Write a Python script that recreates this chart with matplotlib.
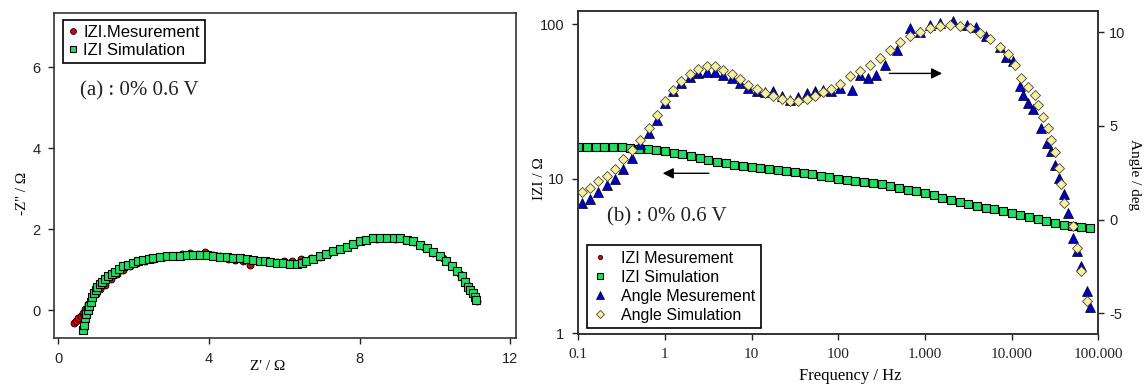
import numpy as np
import matplotlib.pyplot as plt
from matplotlib.ticker import FixedLocator, NullLocator

# panel (a): Nyquist data
re_sim = [0.65, 0.68, 0.71, 0.74, 0.78, 0.82, 0.87, 0.91, 0.95, 1.00, 1.04, 1.10, 1.16, 1.24,
          1.33, 1.42, 1.51, 1.62, 1.73, 1.86, 2.00, 2.13, 2.26, 2.40, 2.53, 2.70, 2.88, 3.05,
          3.23, 3.41, 3.59, 3.76, 3.94, 4.12, 4.30, 4.47, 4.65, 4.82, 5.00, 5.18, 5.36, 5.49,
          5.62, 5.80, 5.97, 6.15, 6.33, 6.46, 6.59, 6.77, 6.95, 7.12, 7.30, 7.48, 7.66, 7.83,
          8.01, 8.18, 8.36, 8.54, 8.72, 8.90, 9.07, 9.25, 9.42, 9.60, 9.78, 9.95, 10.13, 10.29,
          10.44, 10.58, 10.71, 10.80, 10.88, 10.94, 11.00, 11.05, 11.09]
im_sim = [-0.50, -0.36, -0.21, -0.10, 0.00, 0.11, 0.21, 0.31, 0.41, 0.50, 0.58, 0.64, 0.70, 0.77,
          0.83, 0.89, 0.95, 1.02, 1.08, 1.12, 1.16, 1.20, 1.24, 1.27, 1.29, 1.31, 1.33, 1.34,
          1.34, 1.35, 1.35, 1.35, 1.35, 1.33, 1.31, 1.30, 1.29, 1.28, 1.26, 1.24, 1.22, 1.20,
          1.19, 1.17, 1.16, 1.15, 1.14, 1.16, 1.20, 1.26, 1.33, 1.39, 1.45, 1.51, 1.57, 1.64,
          1.70, 1.74, 1.77, 1.78, 1.78, 1.78, 1.77, 1.74, 1.70, 1.62, 1.53, 1.43, 1.33, 1.21,
          1.08, 0.96, 0.83, 0.70, 0.58, 0.50, 0.41, 0.33, 0.25]
re_meas = [0.42, 0.48, 0.54, 0.60, 0.65, 0.72, 0.80, 0.90, 1.00, 1.12, 1.25, 1.40, 1.55, 1.72,
           1.90, 2.10, 2.30, 2.55, 2.80, 3.05, 3.30, 3.50, 3.70, 3.90, 4.10, 4.30, 4.50, 4.70,
           4.90, 5.10, 5.30, 5.55, 5.80, 6.00, 6.20, 6.45, 6.70, 6.95, 7.20, 7.45, 7.70, 7.95,
           8.20, 8.45, 8.70, 8.95, 9.20, 9.45, 9.70, 9.95, 10.20, 10.45, 10.65, 10.82, 10.95,
           11.05, 11.12]
im_meas = [-0.33, -0.27, -0.21, -0.14, -0.08, 0.02, 0.14, 0.28, 0.40, 0.52, 0.63, 0.76, 0.88, 1.00,
           1.08, 1.16, 1.22, 1.27, 1.30, 1.33, 1.38, 1.40, 1.39, 1.44, 1.37, 1.34, 1.25, 1.24,
           1.22, 1.12, 1.20, 1.20, 1.19, 1.21, 1.22, 1.25, 1.28, 1.32, 1.40, 1.50, 1.55, 1.67,
           1.72, 1.76, 1.78, 1.76, 1.73, 1.68, 1.56, 1.42, 1.28, 1.08, 0.88, 0.68, 0.48,
           0.34, 0.22]

# panel (b): Bode data
freq_z = [0.1, 0.126, 0.158, 0.2, 0.251, 0.316, 0.398, 0.5, 0.63, 0.79, 1.0, 1.26, 1.58, 2.0,
          2.51, 3.16, 3.98, 5.0, 6.3, 7.9, 10, 12.6, 15.8, 20, 25.1, 31.6, 39.8, 50, 63, 79,
          100, 126, 158, 200, 251, 316, 398, 500, 630, 794, 1000, 1259, 1585, 1995, 2512, 3162,
          3981, 5012, 6310, 7943, 10000, 12590, 15850, 19950, 25120, 31620, 39810, 50120,
          63100, 79430]
z_sim = [16.1, 16.1, 16.1, 16.1, 16.0, 16.0, 15.9, 15.7, 15.5, 15.3, 15.1, 14.8, 14.5, 14.1,
         13.7, 13.3, 12.9, 12.6, 12.3, 12.1, 11.9, 11.8, 11.6, 11.4, 11.2, 11.0, 10.85, 10.7,
         10.5, 10.35, 10.0, 9.8, 9.75, 9.6, 9.4, 9.2, 8.95, 8.75, 8.5, 8.3, 8.05, 7.85, 7.55,
         7.3, 7.1, 6.85, 6.65, 6.5, 6.35, 6.2, 6.0, 5.8, 5.65, 5.5, 5.35, 5.2, 5.05, 4.95,
         4.85, 4.8]
z_meas = [16.0, 16.1, 16.2, 16.1, 16.0, 15.9, 15.9, 15.8, 15.6, 15.3, 15.0, 14.8, 14.4, 14.1,
          13.8, 13.3, 12.9, 12.5, 12.3, 12.2, 11.9, 11.7, 11.7, 11.5, 11.2, 11.0, 10.8, 10.7,
          10.5, 10.3, 10.1, 9.8, 9.7, 9.6, 9.4, 9.2, 9.0, 8.8, 8.5, 8.4, 8.1, 7.8, 7.6,
          7.3, 7.1, 6.9, 6.7, 6.5, 6.3, 6.2, 6.1, 5.8, 5.7, 5.5, 5.3, 5.2, 5.1, 4.9,
          4.9, 4.8]

freq_ang_sim = [0.11, 0.136, 0.17, 0.214, 0.265, 0.331, 0.413, 0.515, 0.646, 0.80, 1.0, 1.25, 1.55,
                1.94, 2.42, 3.02, 3.78, 4.7, 5.9, 7.3, 9.1, 11.4, 14.2, 17.8, 22.2, 27.5, 34.4,
                43, 53.7, 67, 83, 105, 136, 178, 231, 302, 393, 513, 668, 871, 1135, 1479,
                1932, 2512, 3289, 4266, 5598, 7311, 9120, 10890, 13000, 15490, 18530, 20230,
                23070, 26300, 28840, 31480, 35320, 37580, 39810, 51290, 56890, 63970, 73280]
ang_sim = [1.47, 1.70, 2.05, 2.32, 2.68, 3.21, 3.74, 4.27, 4.89, 5.60, 6.31, 6.93, 7.41,
           7.78, 8.05, 8.22, 8.17, 7.99, 7.78, 7.52, 7.20, 6.97, 6.76, 6.57, 6.44, 6.31, 6.35,
           6.45, 6.61, 6.79, 6.97, 7.25, 7.64, 7.94, 8.26, 8.62, 9.06, 9.45, 9.77, 10.03, 10.21,
           10.34, 10.39, 10.34, 10.21, 9.95, 9.63, 9.23, 8.83, 8.26, 7.55, 7.07, 6.66, 6.13,
           5.48, 4.89, 4.27, 3.60, 2.77, 1.88, 0.90, -0.34, -1.49, -2.73, -4.33]
freq_ang_meas = [0.11, 0.136, 0.17, 0.214, 0.265, 0.331, 0.413, 0.515, 0.646, 0.80, 1.0, 1.25, 1.55,
                 1.94, 2.42, 3.02, 3.78, 4.7, 5.9, 7.3, 9.1, 11.4, 14.2, 17.8, 22.2, 27.5, 34.4,
                 43, 53.7, 67, 83, 105, 143, 178, 222, 275, 344, 470, 668, 871, 1135, 1479,
                 2113, 3020, 3936, 5129, 7311, 8710, 10400, 12450, 13580, 15490, 17700, 22130,
                 25290, 28180, 31480, 35320, 39810, 44870, 51290, 56890, 63970, 73280, 79430]
ang_meas = [0.90, 1.08, 1.47, 1.82, 2.14, 2.68, 3.30, 4.01, 4.63, 5.34, 6.22, 6.84, 7.29,
            7.61, 7.82, 7.90, 7.85, 7.73, 7.55, 7.29, 7.02, 6.84, 6.79, 6.84, 6.57, 6.40, 6.54,
            6.76, 6.84, 6.93, 6.84, 7.02, 6.93, 7.73, 7.55, 7.73, 8.26, 9.06, 10.21, 10.03, 10.39,
            10.48, 10.60, 10.39, 10.30, 9.77, 9.23, 8.70, 8.44, 7.11, 6.66, 6.22, 5.90, 4.89,
            4.09, 3.65, 2.94, 2.23, 1.35, 0.37, -0.96, -1.67, -2.47, -3.80, -4.68]

freq_ticks = [0.1, 1, 10, 100, 1000, 10000, 100000]
freq_labels = ['0.1', '1', '10', '100', '1.000', '10.000', '100.000']

SANS = 'Liberation Sans'
SERIF = 'Liberation Serif'
GREEN = '#1fe060'
RED = '#e00000'
BLUE = '#0000c8'
YELLOW = '#f6f0a0'
EDGE = '#333333'

fig = plt.figure(figsize=(11.44, 3.85), dpi=100)

# ---- panel (a)
ax = fig.add_axes([0.0475, 0.1213, 0.4036, 0.8442])
ax.plot(re_meas, im_meas, 'o', color=RED, mec='black', mew=0.6, ms=5, label='IZI.Mesurement')
ax.plot(re_sim, im_sim, 's', color=GREEN, mec='black', mew=0.8, ms=5.4, label='IZI Simulation')
ax.set_xlim(-0.1, 12.15)
ax.set_ylim(-0.7, 7.34)
ax.set_xticks([0, 4, 8, 12])
ax.set_yticks([0, 2, 4, 6])
ax.tick_params(direction='out', length=4, width=1, pad=6, labelsize=10.5, colors='#222222')
for lab in ax.get_xticklabels() + ax.get_yticklabels():
    lab.set_fontfamily(SANS)
for s in ax.spines.values():
    s.set_linewidth(1.2)
    s.set_color(EDGE)
ax.set_xlabel("Z' / \u03a9", fontfamily=SERIF, fontsize=11)
ax.xaxis.set_label_coords(0.463, -0.067)
ax.set_ylabel("-Z'' / \u03a9", fontfamily=SERIF, fontsize=11, va='center')
ax.yaxis.set_label_coords(-0.07, 0.447)
ax.text(0.056, 0.762, '(a) : 0% 0.6 V', transform=ax.transAxes, fontfamily=SERIF,
        fontsize=15, va='center', ha='left', color='#222222')
leg = ax.legend(loc='upper left', bbox_to_anchor=(0.0195, 0.979), borderaxespad=0,
                fancybox=False, framealpha=1, edgecolor='black', handlelength=0.6,
                handletextpad=0.3, labelspacing=0.15, borderpad=0.3, markerscale=0.85,
                prop={'family': SANS, 'size': 12})
leg.get_frame().set_linewidth(1.2)

# ---- panel (b)
bx = fig.add_axes([0.5055, 0.1317, 0.4545, 0.8397])
bx.set_xscale('log')
bx.set_yscale('log')
h1, = bx.plot(freq_z, z_meas, 'o', color=RED, mec='black', mew=0.5, ms=4, label='IZI Mesurement')
h2, = bx.plot(freq_z, z_sim, 's', color=GREEN, mec='black', mew=0.8, ms=5.6, label='IZI Simulation')
bx.set_xlim(0.1, 100000)
bx.set_ylim(0.986, 122)
bx.xaxis.set_major_locator(FixedLocator(freq_ticks))
bx.xaxis.set_minor_locator(NullLocator())
bx.set_xticklabels(freq_labels, fontfamily=SERIF, fontsize=11)
bx.yaxis.set_major_locator(FixedLocator([1, 10, 100]))
bx.yaxis.set_minor_locator(NullLocator())
bx.set_yticklabels(['1', '10', '100'], fontfamily=SANS, fontsize=10.5)
bx.tick_params(direction='out', length=4, width=1, pad=6, colors='#222222')
for s in bx.spines.values():
    s.set_linewidth(1.2)
    s.set_color(EDGE)
bx.set_xlabel('Frequency / Hz', fontfamily=SERIF, fontsize=12)
bx.xaxis.set_label_coords(0.524, -0.105)
bx.set_ylabel('IZI / \u03a9', fontfamily=SERIF, fontsize=11, va='center')
bx.yaxis.set_label_coords(-0.0755, 0.48)

bx2 = bx.twinx()
h3, = bx2.plot(freq_ang_meas, ang_meas, '^', color=BLUE, mec='black', mew=0.5, ms=7,
               label='Angle Mesurement')
h4, = bx2.plot(freq_ang_sim, ang_sim, 'D', color=YELLOW, mec='#444433', mew=0.6, ms=5.4,
               label='Angle Simulation')
bx2.set_ylim(-6.12, 11.13)
bx2.set_yticks([-5, 0, 5, 10])
bx2.set_yticklabels(['-5', '0', '5', '10'], fontfamily=SANS, fontsize=10.5)
bx2.tick_params(direction='out', length=4, width=1, pad=4, colors='#222222')
for s in bx2.spines.values():
    s.set_linewidth(1.2)
    s.set_color(EDGE)
bx2.set_ylabel('Angle / deg', fontfamily=SERIF, fontsize=11, rotation=270, va='center')
bx2.yaxis.set_label_coords(1.07, 0.494)

bx2.text(0.055, 0.364, '(b) : 0% 0.6 V', transform=bx2.transAxes, fontfamily=SERIF,
         fontsize=15, va='center', ha='left', color='#222222')
bx2.annotate('', xy=(0.157, 0.498), xytext=(0.2565, 0.498), xycoords='axes fraction',
             arrowprops=dict(arrowstyle='-|>', color='black', lw=1, mutation_scale=16))
bx2.annotate('', xy=(0.705, 0.807), xytext=(0.593, 0.807), xycoords='axes fraction',
             arrowprops=dict(arrowstyle='-|>', color='black', lw=1, mutation_scale=16))

leg2 = bx2.legend([h1, h2, h3, h4], ['IZI Mesurement', 'IZI Simulation', 'Angle Mesurement',
                                     'Angle Simulation'],
                  loc='lower left', bbox_to_anchor=(0.016, 0.0185), borderaxespad=0,
                  fancybox=False, framealpha=1, edgecolor='black', handlelength=1.0,
                  handletextpad=0.8, labelspacing=0.25, borderpad=0.35, markerscale=0.8,
                  prop={'family': SANS, 'size': 11.5})
leg2.get_frame().set_linewidth(1.2)

fig.savefig('out.png', dpi=100)
plt.close(fig)
